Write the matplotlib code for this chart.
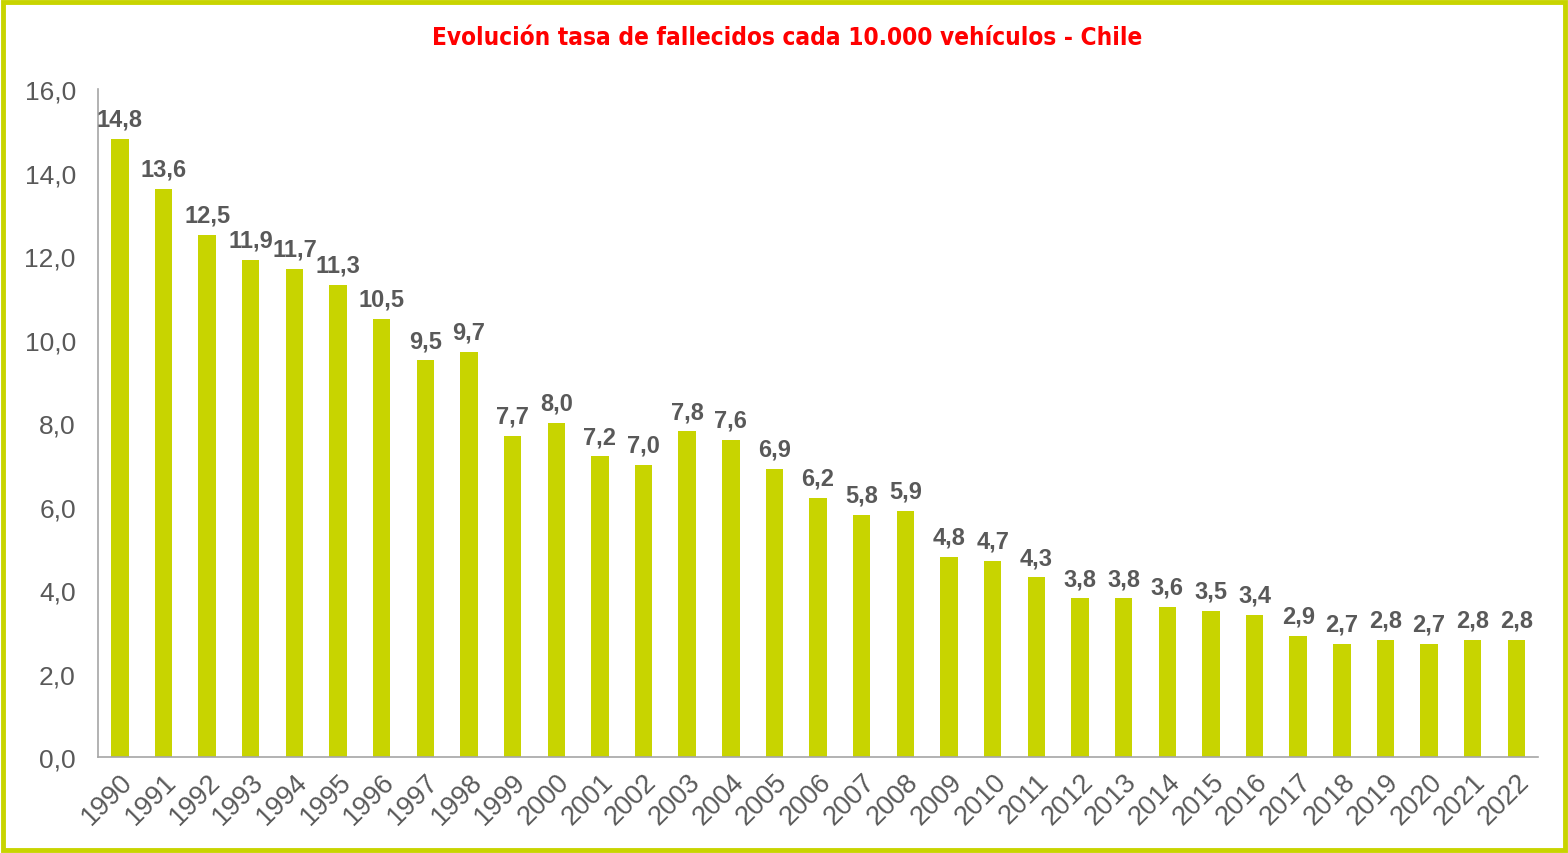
import matplotlib
matplotlib.use("Agg")
import matplotlib.pyplot as plt
from matplotlib.patches import Rectangle

years = list(range(1990, 2023))
tasa = [14.8, 13.6, 12.5, 11.9, 11.7, 11.3, 10.5, 9.5, 9.7, 7.7,
        8.0, 7.2, 7.0, 7.8, 7.6, 6.9, 6.2, 5.8, 5.9, 4.8,
        4.7, 4.3, 3.8, 3.8, 3.6, 3.5, 3.4, 2.9, 2.7, 2.8,
        2.7, 2.8, 2.8]
y_ticks = [0, 2, 4, 6, 8, 10, 12, 14, 16]

bar_color = "#C8D400"
text_gray = "#595959"
spine_gray = "#A6A6A6"

fig = plt.figure(figsize=(15.68, 8.54), dpi=100)
fig.patch.set_facecolor("white")
fig.patches.append(Rectangle((0.002, 0.003), 0.996, 0.994, transform=fig.transFigure,
                             fill=False, edgecolor=bar_color, linewidth=3.5))

ax = fig.add_axes([0.0625, 0.1124, 0.9185, 0.7822])
x = list(range(len(years)))
ax.bar(x, tasa, width=0.4, color=bar_color)

for xi, v in zip(x, tasa):
    ax.annotate(f"{v:.1f}".replace(".", ","), (xi, v), xytext=(0, 6),
                textcoords="offset points", ha="center", va="bottom",
                fontsize=17, fontweight="bold", color=text_gray,
                family="Liberation Sans")

ax.set_xlim(-0.5, len(years) - 0.5)
ax.set_ylim(0, 16)
ax.set_yticks(y_ticks)
ax.set_yticklabels([f"{t:.1f}".replace(".", ",") for t in y_ticks],
                   fontsize=19, color=text_gray, family="Liberation Sans")
ax.set_xticks(x)
ax.set_xticklabels([str(y) for y in years], rotation=45, ha="right",
                   rotation_mode="anchor", fontsize=19.5, color=text_gray,
                   family="Liberation Sans")
ax.tick_params(axis="both", length=0)
ax.tick_params(axis="y", pad=16)
ax.tick_params(axis="x", pad=8)

for s in ("top", "right"):
    ax.spines[s].set_visible(False)
for s in ("left", "bottom"):
    ax.spines[s].set_color(spine_gray)
    ax.spines[s].set_linewidth(1.2)

fig.text(0.502, 0.955, "Evolución tasa de fallecidos cada 10.000 vehículos - Chile",
         ha="center", va="center", fontsize=17.5, fontweight="bold", color="#FF0000",
         family=["Liberation Sans Narrow", "DejaVu Sans"], stretch="condensed")

fig.savefig("out.png", dpi=100)
